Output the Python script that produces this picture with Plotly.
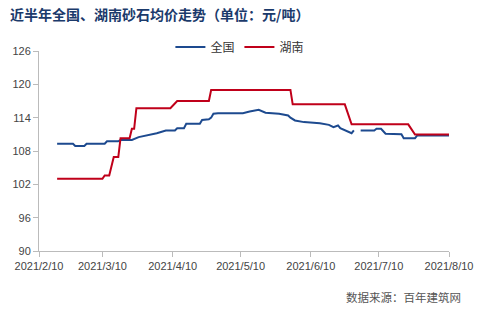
import plotly.graph_objects as go

# 全国 (national average price)
qg_dates = ["2021-02-18", "2021-02-25", "2021-02-26", "2021-03-02", "2021-03-03",
            "2021-03-11", "2021-03-12", "2021-03-17", "2021-03-18", "2021-03-23",
            "2021-03-26", "2021-04-01", "2021-04-03", "2021-04-07", "2021-04-11",
            "2021-04-12", "2021-04-15", "2021-04-16", "2021-04-22", "2021-04-23",
            "2021-04-26", "2021-04-27", "2021-04-28", "2021-04-30", "2021-05-11",
            "2021-05-14", "2021-05-18", "2021-05-21", "2021-05-27", "2021-05-31",
            "2021-06-01", "2021-06-03", "2021-06-07", "2021-06-14", "2021-06-18",
            "2021-06-20", "2021-06-22", "2021-06-23", "2021-06-27", "2021-06-28",
            "2021-06-29", "2021-06-30", "2021-07-02", "2021-07-08", "2021-07-09",
            "2021-07-11", "2021-07-13", "2021-07-20", "2021-07-21", "2021-07-26",
            "2021-07-27", "2021-08-10"]
qg_vals = [109.3, 109.3, 108.9, 108.9, 109.3,
           109.3, 109.75, 109.75, 110.0, 110.0,
           110.5, 111.0, 111.2, 111.7, 111.7,
           112.1, 112.1, 112.9, 112.9, 113.6,
           113.7, 114.0, 114.7, 114.8, 114.8,
           115.1, 115.4, 114.9, 114.7, 114.4,
           114.0, 113.5, 113.2, 113.0, 112.7,
           112.3, 112.6, 112.1, 111.4, 111.2,
           111.7, None, 111.7, 111.7, 112.0,
           112.0, 111.1, 111.0, 110.3, 110.3,
           110.8, 110.8]

# 湖南 (Hunan average price)
hn_dates = ["2021-02-18", "2021-03-10", "2021-03-11", "2021-03-13", "2021-03-15",
            "2021-03-17", "2021-03-18", "2021-03-22", "2021-03-23", "2021-03-24",
            "2021-03-25", "2021-04-09", "2021-04-12", "2021-04-26", "2021-04-27",
            "2021-06-01", "2021-06-02", "2021-06-25", "2021-06-28", "2021-07-23",
            "2021-07-26", "2021-08-10"]
hn_vals = [103.0, 103.0, 103.6, 103.6, 106.9,
           106.9, 110.3, 110.3, 112.0, 112.0,
           115.7, 115.7, 117.0, 117.0, 119.0,
           119.0, 116.4, 116.4, 112.8, 112.8,
           110.95, 110.95]

tick_dates = ["2021-02-10", "2021-03-10", "2021-04-10", "2021-05-10",
              "2021-06-10", "2021-07-10", "2021-08-10"]
tick_labels = ["2021/2/10", "2021/3/10", "2021/4/10", "2021/5/10",
               "2021/6/10", "2021/7/10", "2021/8/10"]
y_ticks = [90, 96, 102, 108, 114, 120, 126]

title_text = "近半年全国、湖南砂石均价走势（单位：元/吨）"
source_text = "数据来源：百年建筑网"

fig = go.Figure()
fig.add_trace(go.Scatter(x=qg_dates, y=qg_vals, mode="lines", name="全国",
                         line=dict(color="#1d4a8f", width=2), connectgaps=False))
fig.add_trace(go.Scatter(x=hn_dates, y=hn_vals, mode="lines", name="湖南",
                         line=dict(color="#c0001a", width=2)))

axis_font = dict(family="Liberation Sans, Arial, sans-serif", size=11, color="#444444")

fig.update_layout(
    width=482, height=319,
    margin=dict(l=39, r=33, t=51, b=68, autoexpand=False),
    paper_bgcolor="white", plot_bgcolor="white",
    showlegend=True,
    legend=dict(orientation="h", x=0.49, xanchor="center", y=1.02, yanchor="middle",
                font=dict(family="Noto Sans CJK SC", size=12, color="#333333"),
                bgcolor="rgba(0,0,0,0)", itemwidth=30, tracegroupgap=0),
    title=dict(text="<b>" + title_text + "</b>", x=10 / 482, xanchor="left",
               xref="container", y=1 - 15 / 319, yanchor="middle", yref="container",
               font=dict(family="Noto Sans CJK SC", size=14, color="#1b3a6b")),
    xaxis=dict(type="date", range=["2021-02-10", "2021-08-10"],
               tickvals=tick_dates, ticktext=tick_labels,
               showgrid=False, zeroline=False,
               showline=True, linecolor="#bbbbbb", linewidth=1,
               ticks="outside", ticklen=5, tickcolor="#bbbbbb",
               tickfont=axis_font),
    yaxis=dict(range=[90, 126], tickvals=y_ticks,
               showgrid=False, zeroline=False,
               showline=True, linecolor="#bbbbbb", linewidth=1,
               ticks="outside", ticklen=5, tickcolor="#bbbbbb",
               tickfont=axis_font),
    annotations=[dict(text=source_text, xref="paper", yref="paper",
                      x=(463 - 39) / 410, xanchor="right",
                      y=-(297 - 251) / 200, yanchor="middle", showarrow=False,
                      font=dict(family="Noto Sans CJK SC", size=11.5, color="#555555"))],
)

fig.write_html("out.html")
